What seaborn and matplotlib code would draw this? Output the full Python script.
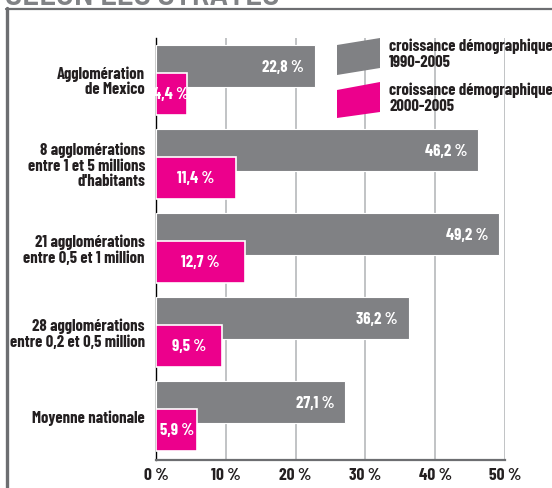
import numpy as np
import pandas as pd
import matplotlib
matplotlib.use("Agg")
import matplotlib.pyplot as plt
from matplotlib.patches import Polygon
from matplotlib.lines import Line2D
import seaborn as sns

categories = [
    "Agglomération\nde Mexico",
    "8 agglomérations\nentre 1 et 5 millions\nd'habitants",
    "21 agglomérations\nentre 0,5 et 1 million",
    "28 agglomérations\nentre 0,2 et 0,5 million",
    "Moyenne nationale",
]
growth_1990_2005 = [22.8, 46.2, 49.2, 36.2, 27.1]
growth_2000_2005 = [4.4, 11.4, 12.7, 9.5, 5.9]
series_names = ["croissance démographique\n1990-2005", "croissance démographique\n2000-2005"]
xticks = [0, 10, 20, 30, 40, 50]
xtick_labels = ["0 %", "10 %", "20 %", "30 %", "40 %", "50 %"]
title = "SELON LES STRATES"

GREY = "#808184"
MAGENTA = "#EC008C"
DARK = "#231F20"

sns.set_theme(style="white")
plt.rcParams["font.family"] = ["Barlow Condensed", "DejaVu Sans"]
FW = 700
FS = 12

W, H = 552, 488
fig = plt.figure(figsize=(W / 100, H / 100), dpi=100)
ax = fig.add_axes([156 / W, 1 - 460 / H, (505 - 156) / W, (460 - 38) / H])

pos = np.arange(len(categories), dtype=float)
df1 = pd.DataFrame({"v": growth_1990_2005, "p": pos - 1 / 6})
df2 = pd.DataFrame({"v": growth_2000_2005, "p": pos + 1 / 6})
sns.barplot(data=df1, x="v", y="p", orient="y", native_scale=True, width=0.5,
            color=GREY, saturation=1, errorbar=None, edgecolor="white", linewidth=0.8, ax=ax, zorder=3)
sns.barplot(data=df2, x="v", y="p", orient="y", native_scale=True, width=0.5,
            color=MAGENTA, saturation=1, errorbar=None, edgecolor="white", linewidth=1.2, ax=ax, zorder=4)

ax.set_xlim(0, 50)
ax.set_ylim(4.52, -0.5)
ax.set_xticks(xticks)
ax.set_xticklabels(xtick_labels, fontweight=FW)
ax.set_yticks(pos)
ax.set_yticklabels(categories, ha="right", linespacing=1.05, fontweight=FW)
ax.set_xlabel("")
ax.set_ylabel("")
ax.tick_params(axis="y", length=0, pad=8, labelsize=FS, labelcolor=DARK)
ax.tick_params(axis="x", length=0, pad=6, labelsize=FS + 0.5, labelcolor=DARK)
ax.xaxis.grid(True, color="#BCBEC0", linewidth=1.3, zorder=0)
ax.set_axisbelow(True)
for s in ["top", "right"]:
    ax.spines[s].set_visible(False)
ax.spines["left"].set_color("black")
ax.spines["left"].set_linewidth(1.0)
ax.spines["bottom"].set_color("#6D6E71")
ax.spines["bottom"].set_linewidth(1.6)

def fmt(v):
    return f"{v:.1f}".replace(".", ",") + " %"

for v, p in zip(growth_1990_2005, pos - 1 / 6):
    ax.annotate(fmt(v), (v, p), xytext=(-8, -1), textcoords="offset points",
                ha="right", va="center", color="white", fontsize=FS, fontweight=FW, zorder=5)
for v, p in zip(growth_2000_2005, pos + 1 / 6):
    ax.annotate(fmt(v), (v / 2, p), xytext=(0, 0), textcoords="offset points",
                ha="center", va="center", color="white", fontsize=FS, fontweight=FW, zorder=6)

# legend (skewed swatches)
def px(x, y):
    return (x / W, 1 - y / H)

fig.patches.append(Polygon([px(337, 45), px(380, 38), px(380, 68), px(337, 75)],
                           closed=True, transform=fig.transFigure, facecolor=GREY, edgecolor="none", zorder=5))
fig.patches.append(Polygon([px(337, 90), px(380, 82), px(380, 112), px(337, 118)],
                           closed=True, transform=fig.transFigure, facecolor=MAGENTA, edgecolor="none", zorder=5))
fig.text(389 / W, 1 - 54 / H, series_names[0], ha="left", va="center", fontsize=FS,
         color=DARK, fontweight=FW, linespacing=1.05)
fig.text(389 / W, 1 - 98 / H, series_names[1], ha="left", va="center", fontsize=FS,
         color=DARK, fontweight=FW, linespacing=1.05)

# frame and cut title
fig.lines.append(Line2D([7 / W, 7 / W], [0, 1 - 8 / H], transform=fig.transFigure,
                        color="#6D6E71", linewidth=2.4))
fig.lines.append(Line2D([6 / W, 1], [1 - 9 / H, 1 - 9 / H], transform=fig.transFigure,
                        color="#6D6E71", linewidth=1.6))
fig.text(5 / W, 1 - 5.0 / H, title, ha="left", va="baseline", fontsize=24,
         color="#808285", fontweight=600, family=["Barlow Semi Condensed", "DejaVu Sans"])

fig.savefig("out.png", dpi=100)
